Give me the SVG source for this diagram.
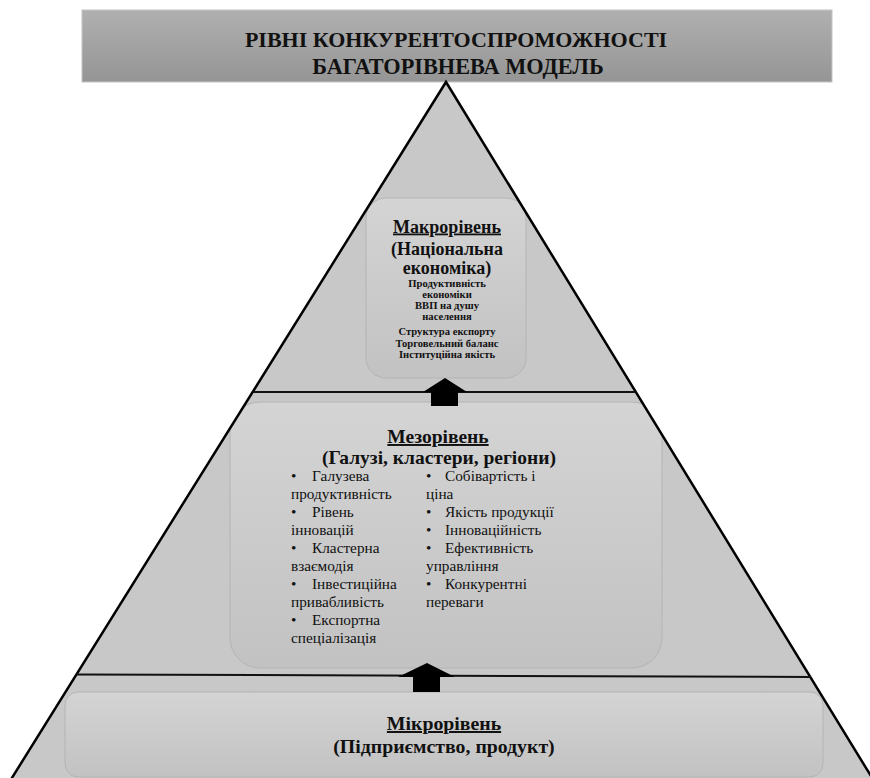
<svg xmlns="http://www.w3.org/2000/svg" width="870" height="778" viewBox="0 0 870 778">
<style>
.t{font-family:"Liberation Serif","Times New Roman",serif;fill:#111;}
.b{font-weight:bold;}
.c{text-anchor:middle;}
.u{text-decoration:underline;}
.box{fill:url(#boxGrad);stroke:#b4b4b4;stroke-width:1;}
.edge{fill:none;stroke:#000;stroke-width:2.5;stroke-linejoin:miter;}
.lvl{fill:none;stroke:#111;stroke-width:2;}
.arr{fill:#000;stroke:none;}
.body{font-size:15.3px;}
.small{font-size:10.6px;}
</style>
<defs>
<linearGradient id="hdrGrad" x1="0" y1="0" x2="0" y2="1">
<stop offset="0" stop-color="#b0b0b0"/>
<stop offset="1" stop-color="#959595"/>
</linearGradient>
<linearGradient id="boxGrad" x1="0" y1="0" x2="0" y2="1">
<stop offset="0" stop-color="#d4d4d4"/>
<stop offset="1" stop-color="#c2c2c2"/>
</linearGradient>
<clipPath id="tri">
<polygon points="446,82 12,778 872,778"/>
</clipPath>
</defs>
<rect width="870" height="778" fill="#fff"/>

<g id="header">
<rect x="82" y="10" width="750" height="72" fill="url(#hdrGrad)" stroke="#c4c4c4" stroke-width="1"/>
<text class="t b c" x="456" y="46.5" font-size="22">РІВНІ КОНКУРЕНТОСПРОМОЖНОСТІ</text>
<text class="t b c" x="458" y="74" font-size="22.3">БАГАТОРІВНЕВА МОДЕЛЬ</text>
</g>

<g id="pyramid">
<polygon points="446,82 12,778 872,778" fill="#c8c8c8"/>
</g>

<g id="macro" clip-path="url(#tri)">
<rect class="box" x="366" y="198" width="160" height="180" rx="20" ry="20"/>
<text class="t b c u" x="447" y="232.5" font-size="18">Макрорівень</text>
<text class="t b c" x="447" y="255" font-size="18">(Національна</text>
<text class="t b c" x="447" y="273.5" font-size="18">економіка)</text>
<text class="t b c small" x="447" y="287">Продуктивність</text>
<text class="t b c small" x="447" y="297.5">економіки</text>
<text class="t b c small" x="447" y="309">ВВП на душу</text>
<text class="t b c small" x="447" y="320">населення</text>
<text class="t b c small" x="447" y="335">Структура експорту</text>
<text class="t b c small" x="447" y="346.5">Торговельний баланс</text>
<text class="t b c small" x="447" y="358">Інституційна якість</text>
</g>

<g id="mezo" clip-path="url(#tri)">
<rect class="box" x="230" y="402" width="432" height="266" rx="30" ry="30"/>
<text class="t b c u" x="438" y="443" font-size="19.5">Мезорівень</text>
<text class="t b c" x="439" y="464" font-size="19.5">(Галузі, кластери, регіони)</text>
<text class="t body" x="291" y="481">•</text><text class="t body" x="312" y="481">Галузева</text>
<text class="t body" x="291" y="499">продуктивність</text>
<text class="t body" x="291" y="517">•</text><text class="t body" x="312" y="517">Рівень</text>
<text class="t body" x="291" y="535">інновацій</text>
<text class="t body" x="291" y="553">•</text><text class="t body" x="312" y="553">Кластерна</text>
<text class="t body" x="291" y="571">взаємодія</text>
<text class="t body" x="291" y="589">•</text><text class="t body" x="312" y="589">Інвестиційна</text>
<text class="t body" x="291" y="607">привабливість</text>
<text class="t body" x="291" y="625">•</text><text class="t body" x="312" y="625">Експортна</text>
<text class="t body" x="291" y="643">спеціалізація</text>
<text class="t body" x="426" y="481">•</text><text class="t body" x="445" y="481">Собівартість і</text>
<text class="t body" x="426" y="499">ціна</text>
<text class="t body" x="426" y="517">•</text><text class="t body" x="445" y="517">Якість продукції</text>
<text class="t body" x="426" y="535">•</text><text class="t body" x="445" y="535">Інноваційність</text>
<text class="t body" x="426" y="553">•</text><text class="t body" x="445" y="553">Ефективність</text>
<text class="t body" x="426" y="571">управління</text>
<text class="t body" x="426" y="589">•</text><text class="t body" x="445" y="589">Конкурентні</text>
<text class="t body" x="426" y="607">переваги</text>
</g>

<g id="micro" clip-path="url(#tri)">
<rect class="box" x="65" y="692" width="758" height="85" rx="13" ry="13"/>
<text class="t b c u" x="444" y="730" font-size="19.8">Мікрорівень</text>
<text class="t b c" x="444" y="753" font-size="19.8">(Підприємство, продукт)</text>
</g>

<g id="levels">
<path class="edge" d="M10,781 L446,82 L874,781"/>
<path class="lvl" d="M253,392 L636,392"/>
<path class="lvl" d="M76,674.5 L811,677"/>
</g>

<g id="connectors">
<polygon class="arr" points="445,378 467,392 458,392 458,406 431,406 431,392 423,392"/>
<polygon class="arr" points="427,663 455,677 440,677 440,692 413,692 413,677 398,677"/>
</g>
</svg>
